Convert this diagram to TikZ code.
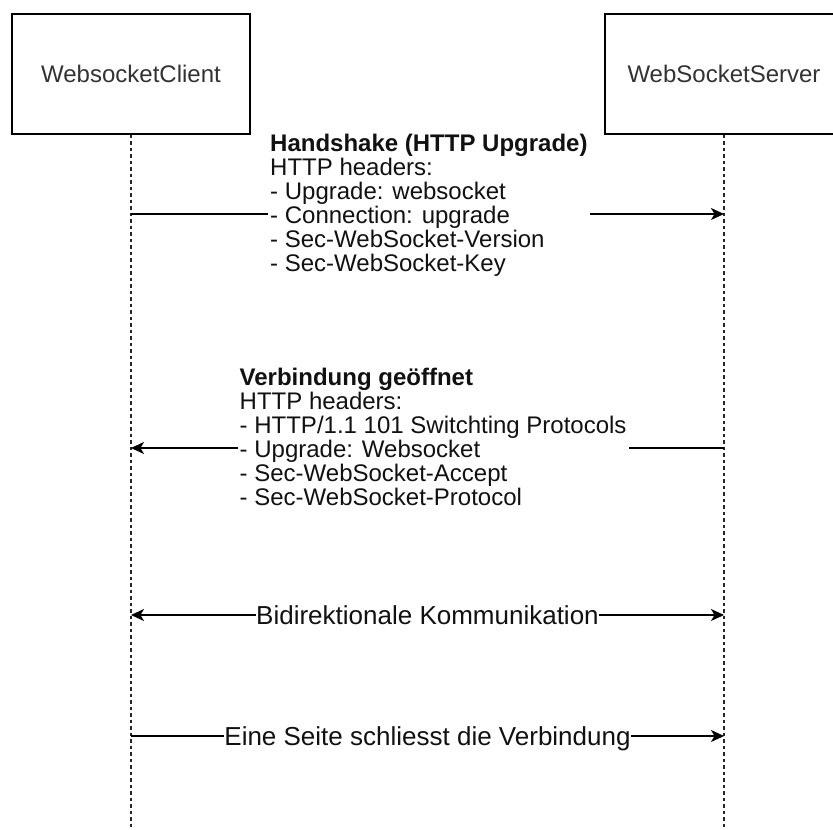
\documentclass[tikz,border=0pt]{standalone}
\usepackage{fontspec}
\setmainfont{Liberation Sans}
\usetikzlibrary{arrows.meta}
\definecolor{boxtext}{HTML}{333333}
\definecolor{msgtext}{HTML}{111111}
\begin{document}
\begin{tikzpicture}[x=1pt,y=-1pt,
  box/.style={draw=black, line width=1.4pt, minimum width=238pt, minimum height=120pt, inner sep=0pt, font=\fontsize{24}{24}\selectfont, text=boxtext},
  life/.style={draw=black!85, line width=1.1pt, dash pattern=on 3.5pt off 3pt},
  msg/.style={line width=1.4pt, draw=black, -{Stealth[length=13pt,width=12pt,inset=3.5pt]}},
  both/.style={line width=1.4pt, draw=black, {Stealth[length=13pt,width=12pt,inset=3.5pt]}-{Stealth[length=13pt,width=12pt,inset=3.5pt]}},
  blocklabel/.style={fill=white, align=left, inner sep=2pt, font=\fontsize{24}{24}\selectfont, text=msgtext},
  midlabel/.style={fill=white, inner xsep=0.5pt, inner ysep=2pt, font=\fontsize{26}{26}\selectfont, text=msgtext}]
\useasboundingbox (0,0) rectangle (833,830);
\clip (0,0) rectangle (833,830);
\fill[white] (0,0) rectangle (833,830);

% participants
\node[box] (client) at (131,74) {WebsocketClient};
\node[box] (server) at (724,74) {WebSocketServer};

% lifeline ends
\coordinate (cbot) at (131,830);
\coordinate (sbot) at (724,830);
\draw[life] (client.south) -- (cbot);
\draw[life] (server.south) -- (sbot);

% message anchor points on lifelines
\coordinate (c1) at (131,214);
\coordinate (s1) at (724,214);
\coordinate (c2) at (131,448);
\coordinate (s2) at (724,448);
\coordinate (c3) at (131,615);
\coordinate (s3) at (724,615);
\coordinate (c4) at (131,736);
\coordinate (s4) at (724,736);

% messages
\draw[msg] (c1) -- (s1);
\draw[msg] (s2) -- (c2);
\draw[both] (c3) -- (s3);
\draw[msg] (c4) -- (s4);

% labels
\node[blocklabel, anchor=west] (m1) at (268,205) {\textbf{Handshake (HTTP Upgrade)}\\HTTP headers:\\- Upgrade: websocket\\- Connection: upgrade\\- Sec-WebSocket-Version\\- Sec-WebSocket-Key};
\node[blocklabel, anchor=west] (m2) at (237.5,437) {\textbf{Verbindung geöffnet}\\HTTP headers:\\- HTTP/1.1 101 Switchting Protocols\\- Upgrade: Websocket\\- Sec-WebSocket-Accept\\- Sec-WebSocket-Protocol};
\node[midlabel, anchor=base] (m3) at (427.5,624.5) {Bidirektionale Kommunikation};
\node[midlabel, anchor=base] (m4) at (427.5,745.5) {Eine Seite schliesst die Verbindung};
\end{tikzpicture}
\end{document}
